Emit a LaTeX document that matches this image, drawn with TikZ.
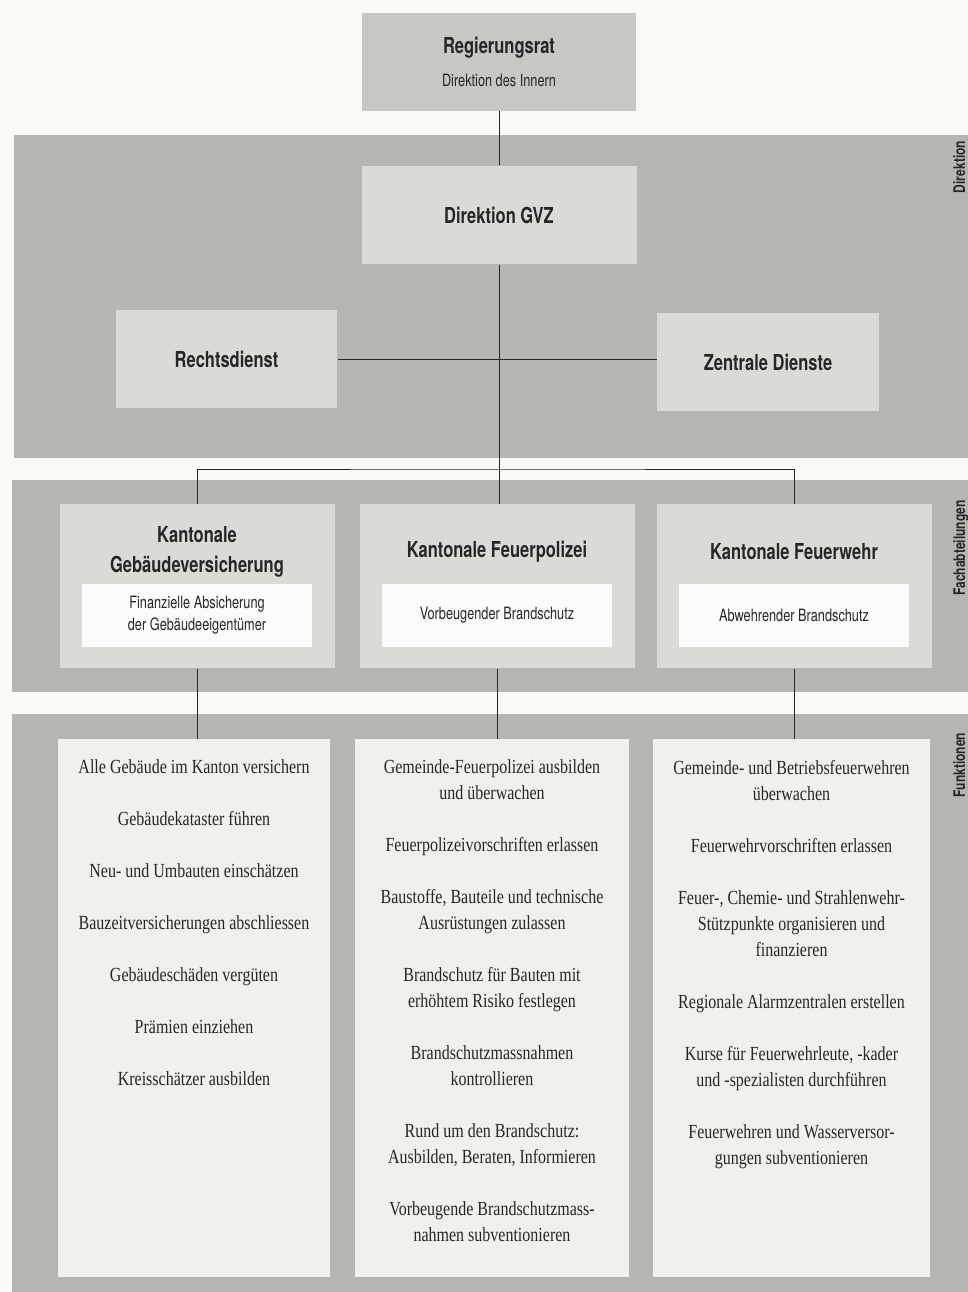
\documentclass[tikz,border=0pt]{standalone}
\usepackage{fontspec}
\setmainfont{Liberation Serif}[FakeStretch=0.8]
\newfontfamily\Hsans{TeX Gyre Heros}[FakeStretch=0.75]
\usetikzlibrary{positioning}
\definecolor{paper}{RGB}{250,250,245}
\definecolor{band}{RGB}{181,181,178}
\definecolor{boxgray}{RGB}{199,199,196}
\definecolor{light}{RGB}{218,218,215}
\definecolor{pale}{RGB}{241,241,236}
\definecolor{ink}{RGB}{38,38,38}
\newcommand{\Sep}{\\[26pt]}

\begin{document}
\begin{tikzpicture}[x=1pt,y=-1pt,node distance=24pt,line width=1pt,draw=ink,
  every node/.style={text=ink,inner sep=0pt},
  head/.style={align=center,font=\Hsans\bfseries\fontsize{22}{30}\selectfont},
  sub/.style={align=center,font=\Hsans\fontsize{17}{22}\selectfont},
  topbox/.style={fill=boxgray,minimum width=274pt,minimum height=98pt},
  staff/.style={head,fill=light,minimum width=221pt,minimum height=98pt},
  dept/.style={fill=light,minimum width=275pt,minimum height=164pt},
  task/.style={sub,fill=white!70!pale,minimum width=230pt,minimum height=63pt},
  column/.style={fill=pale,minimum width=274pt,minimum height=538pt},
  duty/.style={align=center,font=\fontsize{20}{26}\selectfont},
  sidelabel/.style={rotate=90,anchor=base,font=\Hsans\bfseries\fontsize{16}{16}\selectfont}]
\useasboundingbox (0,0) rectangle (968,1292);
\fill[paper] (0,0) rectangle (968,1292);
% bands
\fill[band] (14,135) rectangle (968,458);
\fill[band] (12,480) rectangle (968,692);
\fill[band] (12,714) rectangle (968,1292);
\node[sidelabel] (ldir) at (965,167) {Direktion};
\node[sidelabel] (lfach) at (965,548) {Fachabteilungen};
\node[sidelabel] (lfunk) at (965,765) {Funktionen};
% direction
\node[topbox,align=center,font=\Hsans\fontsize{17}{33}\selectfont] (rr) at (499,62)
  {{\bfseries\fontsize{22}{33}\selectfont Regierungsrat}\\Direktion des Innern};
\node[staff,below=54pt of rr,minimum width=275pt] (gvz) {Direktion GVZ};
\node[staff] (rd) at (226.5,359) {Rechtsdienst};
\node[staff,minimum width=222pt] (zd) at (768,362) {Zentrale Dienste};
% departments
\node[dept] (kgv) at (197,586) {};
\node[dept,right=of kgv] (kfp) {};
\node[dept,right=21pt of kfp] (kfw) {};
\node[head] (kgvt) at ([yshift=-48pt]kgv.north) {Kantonale\\Gebäudeversicherung};
\node[head] (kfpt) at ([yshift=-48pt]kfp.north) {Kantonale Feuerpolizei};
\node[head] (kfwt) at ([yshift=-48pt]kfw.north) {Kantonale Feuerwehr};
\node[task,above=21pt of kgv.south] (kgvi) {Finanzielle Absicherung\\der Gebäudeeigentümer};
\node[task,above=21pt of kfp.south] (kfpi) {Vorbeugender Brandschutz};
\node[task,above=21pt of kfw.south] (kfwi) {Abwehrender Brandschutz};
% functions
\node[column,minimum width=272pt] (fgv) at (194,1008) {};
\node[column,right=of fgv] (ffp) {};
\node[column,right=23pt of ffp,minimum width=277pt] (ffw) {};
\node[duty,below=21pt of fgv.north] (fgvt) {Alle Gebäude im Kanton versichern\Sep
  Gebäudekataster führen\Sep
  Neu- und Umbauten einschätzen\Sep
  Bauzeitversicherungen abschliessen\Sep
  Gebäudeschäden vergüten\Sep
  Prämien einziehen\Sep
  Kreisschätzer ausbilden};
\node[duty,below=21pt of ffp.north] (ffpt) {Gemeinde-Feuerpolizei ausbilden\\und überwachen\Sep
  Feuerpolizeivorschriften erlassen\Sep
  Baustoffe, Bauteile und technische\\Ausrüstungen zulassen\Sep
  Brandschutz für Bauten mit\\erhöhtem Risiko festlegen\Sep
  Brandschutzmassnahmen\\kontrollieren\Sep
  Rund um den Brandschutz:\\Ausbilden, Beraten, Informieren\Sep
  Vorbeugende Brandschutzmass-\\nahmen subventionieren};
\node[duty,below=21pt of ffw.north] (ffwt) {Gemeinde- und Betriebsfeuerwehren\\überwachen\Sep
  Feuerwehrvorschriften erlassen\Sep
  Feuer-, Chemie- und Strahlenwehr-\\Stützpunkte organisieren und\\finanzieren\Sep
  Regionale Alarmzentralen erstellen\Sep
  Kurse für Feuerwehrleute, -kader\\und -spezialisten durchführen\Sep
  Feuerwehren und Wasserversor-\\gungen subventionieren};
% connectors
\coordinate (hub) at (499,469);
\draw (rr.south) -- (gvz.north);
\draw (gvz.south) -- (gvz.south |- kfp.north);
\draw (rd.east) -- (rd.east -| zd.west);
\draw (kgv.north) |- (hub) -| (kfw.north);
\draw (kgv.south) -- (kgv.south |- fgv.north);
\draw (kfp.south) -- (kfp.south |- ffp.north);
\draw (kfw.south) -- (kfw.south |- ffw.north);
\end{tikzpicture}
\end{document}
